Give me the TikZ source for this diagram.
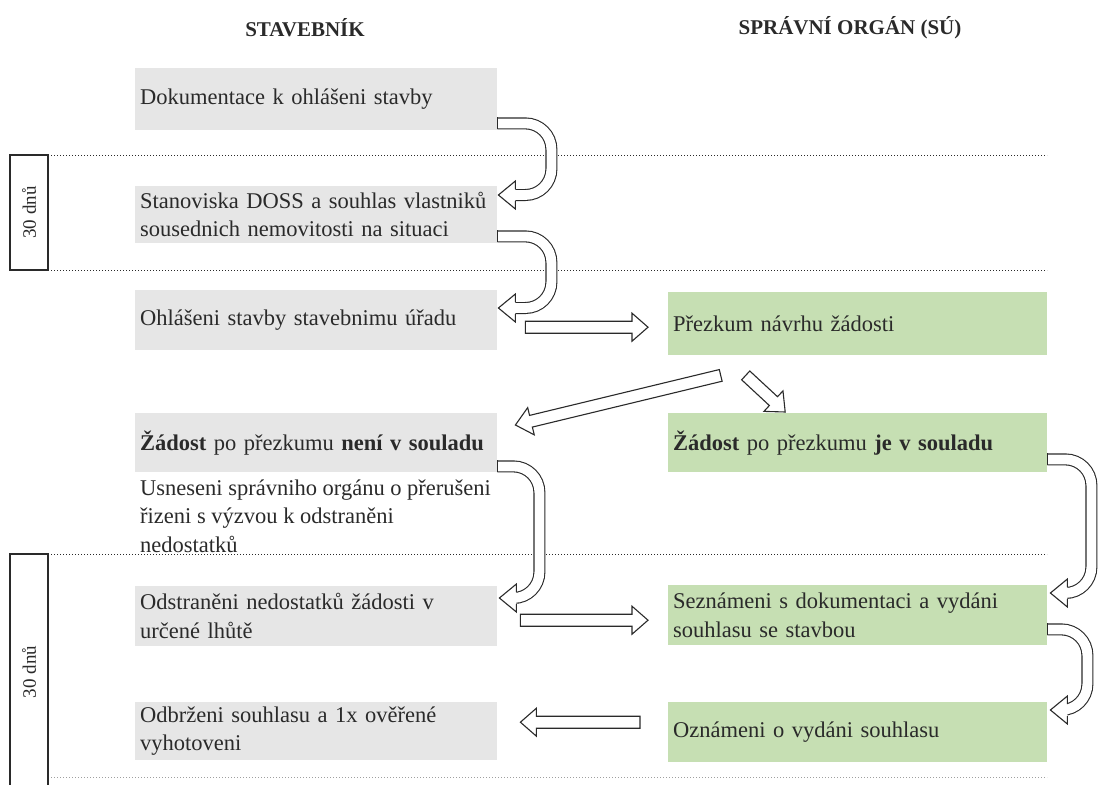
\documentclass[tikz,border=0pt]{standalone}
\usepackage{fontspec}
\setmainfont{Liberation Serif}
\usetikzlibrary{calc}

\definecolor{cellgray}{HTML}{E6E6E6}
\definecolor{cellgreen}{HTML}{C6DFB3}
\definecolor{ink}{HTML}{2A2A2A}

\newcommand\bodysize{\fontsize{22.5}{28.5}\selectfont}
\newcommand\headsize{\fontsize{21}{25}\selectfont\bfseries}

\tikzset{
  cell/.style={anchor=north west, inner xsep=5pt, inner ysep=0pt, align=left,
               font=\bodysize, text=ink},
  graycell/.style={cell, fill=cellgray, text width=352pt},
  greencell/.style={cell, fill=cellgreen, text width=369pt},
  plaintext/.style={anchor=west, inner xsep=5pt, inner ysep=0pt, align=left,
               font=\bodysize, text=ink},
  header/.style={font=\headsize, text=ink},
  periodbox/.style={draw=ink, line width=1.3pt, rotate=90, minimum height=38pt,
               font=\fontsize{19}{22}\selectfont, text=ink, inner sep=0pt},
  separator/.style={dotted, line width=1pt, ink},
  arrowline/.style={line width=1.1pt, draw=ink},
  band/.style={arrowline, double=white, double distance=9.8pt, rounded corners=26pt},
  headshape/.style={arrowline, fill=white, line join=miter},
}

% hollow straight block arrow from #1 (tail) to #2 (tip)
\newcommand\blockarrow[2]{%
  \filldraw[headshape] let \p1=(#1), \p2=(#2),
      \n1={atan2(\y2-\y1,\x2-\x1)}, \n2={veclen(\x2-\x1,\y2-\y1)} in
      [shift={(\p1)}, rotate=\n1]
      (0,6) -- (\n2-16,6) -- (\n2-16,14) -- (\n2,0) -- (\n2-16,-14)
      -- (\n2-16,-6) -- (0,-6) -- cycle;
}

% hollow U-turn arrow: tail #1, horizontal reach #2, tip #3 (pointing left)
\newcommand\uturnarrow[3]{%
  \draw[band] (#1) -- ++(#2,0) |- ($(#3)+(15,0)$);
  \filldraw[headshape] ($(#3)+(17,-6)$) -- ($(#3)+(17,-14)$) -- (#3)
      -- ($(#3)+(17,14)$) -- ($(#3)+(17,6)$);
  \draw[arrowline] ($(#1)+(0,-6)$) -- ($(#1)+(0,6)$);
}

\begin{document}
\begin{tikzpicture}[x=1pt, y=-1pt]
\useasboundingbox[fill=white] (0,0) rectangle (1099,784);

% column headers
\node[header] (hA) at (305,28) {STAVEBNÍK};
\node[header] (hB) at (850,28) {SPRÁVNÍ ORGÁN (SÚ)};

% time separators
\draw[separator] (48,155) -- (1047,155);
\draw[separator] (48,270) -- (1047,270);
\draw[separator] (48,554) -- (1047,554);
\draw[separator, ink!45] (48,777) -- (1047,777);

% period markers
\node[periodbox, minimum width=115pt] (p1) at (29,212.5) {30 dnů};
\node[periodbox, minimum width=236pt] (p2) at (29,672) {30 dnů};

% builder column
\node[graycell, minimum height=62pt] (d1) at (135,68) {Dokumentace k ohlášeni stavby};
\node[graycell, minimum height=57pt] (d2) at (135,186)
  {Stanoviska DOSS a souhlas vlastniků\\sousednich nemovitosti na situaci};
\node[graycell, minimum height=60pt] (d3) at (135,290) {Ohlášeni stavby stavebnimu úřadu};
\node[graycell, minimum height=59pt] (d4) at (135,413)
  {\textbf{Žádost} po přezkumu \textbf{není v souladu}};
\node[plaintext] (us) at (135,516)
  {Usneseni správniho orgánu o přerušeni\\řizeni s výzvou k odstraněni\\nedostatků};
\node[graycell, minimum height=60pt] (d5) at (135,586)
  {Odstraněni nedostatků žádosti v\\určené lhůtě};
\node[graycell, minimum height=58pt] (d6) at (135,702)
  {Odbrženi souhlasu a 1x ověřené\\vyhotoveni};

% authority column
\node[greencell, minimum height=63pt] (g1) at (668,292) {Přezkum návrhu žádosti};
\node[greencell, minimum height=59pt] (g2) at (668,413)
  {\textbf{Žádost} po přezkumu \textbf{je v souladu}};
\node[greencell, minimum height=60pt] (g3) at (668,585)
  {Seznámeni s dokumentaci a vydáni\\souhlasu se stavbou};
\node[greencell, minimum height=60pt] (g4) at (668,702) {Oznámeni o vydáni souhlasu};

% arrow end points
\coordinate (u1a) at ($(d1.south east)+(0,-7)$);
\coordinate (u1b) at ($(d2.north east)+(1,9)$);
\coordinate (u2a) at ($(d2.south east)+(0,-7)$);
\coordinate (u2b) at ($(d3.north east)+(1,18)$);
\coordinate (u3a) at ($(d4.south east)+(0,-6)$);
\coordinate (u3b) at ($(d5.north east)+(2,12)$);
\coordinate (u4a) at ($(g2.south east)+(0,-13)$);
\coordinate (u4b) at ($(g3.north east)+(3,8)$);
\coordinate (u5a) at ($(g3.south east)+(0,-16)$);
\coordinate (u5b) at ($(g4.north east)+(3,8)$);

\coordinate (s1a) at ($(d3.east)+(28,7)$);
\coordinate (s1b) at ($(g1.west)+(-20,3.5)$);
\coordinate (s2a) at ($(g1.south)+(-137,20)$);
\coordinate (s2b) at ($(d4.north east)+(18,12)$);
\coordinate (s3a) at ($(g1.south)+(-112,20)$);
\coordinate (s3b) at ($(g2.north)+(-72.5,-1)$);
\coordinate (s4a) at ($(d5.east)+(23,4)$);
\coordinate (s4b) at ($(g3.west)+(-20,5)$);
\coordinate (s5a) at ($(g4.west)+(-28,-10)$);
\coordinate (s5b) at ($(d6.east)+(23,-9)$);

% flow arrows
\uturnarrow{u1a}{54}{u1b}
\uturnarrow{u2a}{54}{u2b}
\uturnarrow{u3a}{42}{u3b}
\uturnarrow{u4a}{44}{u4b}
\uturnarrow{u5a}{40}{u5b}

\blockarrow{s1a}{s1b}
\blockarrow{s2a}{s2b}
\blockarrow{s3a}{s3b}
\blockarrow{s4a}{s4b}
\blockarrow{s5a}{s5b}
\end{tikzpicture}
\end{document}
